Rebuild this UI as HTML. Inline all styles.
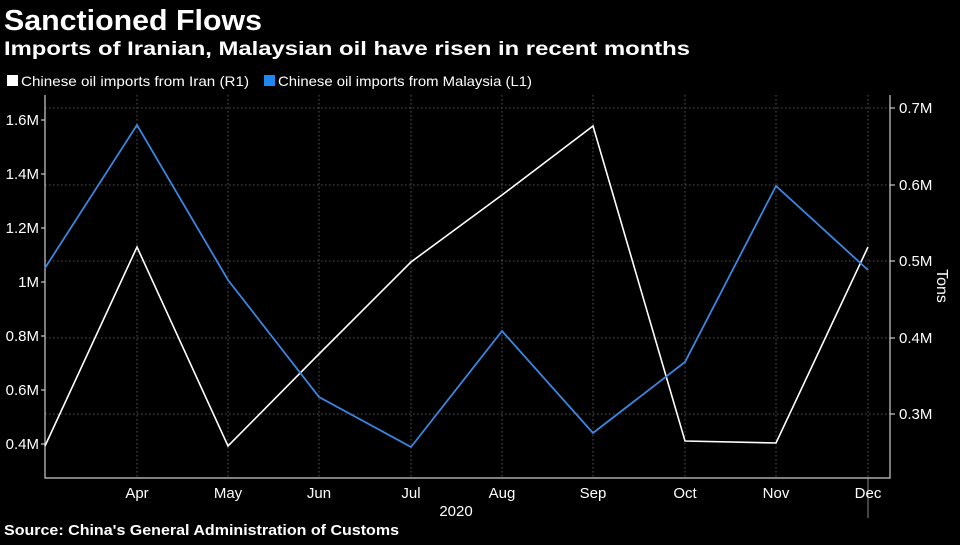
<!DOCTYPE html>
<html><head><meta charset="utf-8"><style>
body{margin:0;background:#000;width:960px;height:540px;overflow:hidden;font-family:"Liberation Sans",sans-serif;}
</style></head><body>
<svg width="960" height="540" xmlns="http://www.w3.org/2000/svg" font-family="Liberation Sans, sans-serif">
<rect width="960" height="540" fill="#000"/>
<text x="4" y="30" fill="#fff" font-size="29" font-weight="bold" textLength="258" lengthAdjust="spacingAndGlyphs">Sanctioned Flows</text>
<text x="4" y="55" fill="#fff" font-size="19" font-weight="bold" textLength="686" lengthAdjust="spacingAndGlyphs">Imports of Iranian, Malaysian oil have risen in recent months</text>
<rect x="7" y="75" width="11" height="11" fill="#fff"/>
<text x="21" y="86" fill="#fff" font-size="14" textLength="228" lengthAdjust="spacingAndGlyphs">Chinese oil imports from Iran (R1)</text>
<rect x="264" y="75" width="11" height="11" fill="#1e88f0"/>
<text x="278" y="86" fill="#fff" font-size="14" textLength="254" lengthAdjust="spacingAndGlyphs">Chinese oil imports from Malaysia (L1)</text>
<g stroke="#555" stroke-dasharray="1.5,2.5" stroke-width="1">
<line x1="45" y1="108" x2="890" y2="108"/><line x1="45" y1="185" x2="890" y2="185"/><line x1="45" y1="261" x2="890" y2="261"/><line x1="45" y1="338" x2="890" y2="338"/><line x1="45" y1="414" x2="890" y2="414"/>
<line x1="137" y1="95" x2="137" y2="478"/><line x1="228" y1="95" x2="228" y2="478"/><line x1="319" y1="95" x2="319" y2="478"/><line x1="411" y1="95" x2="411" y2="478"/><line x1="502" y1="95" x2="502" y2="478"/><line x1="593" y1="95" x2="593" y2="478"/><line x1="685" y1="95" x2="685" y2="478"/><line x1="776" y1="95" x2="776" y2="478"/><line x1="868" y1="95" x2="868" y2="478"/>
</g>
<line x1="868" y1="478" x2="868" y2="518" stroke="#888" stroke-width="1"/>
<g stroke="#ccc" stroke-width="1.2" fill="none">
<polyline points="45,95 45,478 890,478 890,95"/>
<line x1="41" y1="120" x2="45" y2="120"/><line x1="41" y1="174" x2="45" y2="174"/><line x1="41" y1="228" x2="45" y2="228"/><line x1="41" y1="282" x2="45" y2="282"/><line x1="41" y1="336" x2="45" y2="336"/><line x1="41" y1="390" x2="45" y2="390"/><line x1="41" y1="444" x2="45" y2="444"/>
<line x1="890" y1="108" x2="895" y2="108"/><line x1="890" y1="185" x2="895" y2="185"/><line x1="890" y1="261" x2="895" y2="261"/><line x1="890" y1="338" x2="895" y2="338"/><line x1="890" y1="414" x2="895" y2="414"/>
</g>
<g fill="#fff" font-size="15" text-anchor="end">
<text x="39" y="125">1.6M</text><text x="39" y="179">1.4M</text><text x="39" y="233">1.2M</text><text x="39" y="287">1M</text><text x="39" y="341">0.8M</text><text x="39" y="395">0.6M</text><text x="39" y="449">0.4M</text>
</g>
<g fill="#fff" font-size="15">
<text x="899" y="113">0.7M</text><text x="899" y="190">0.6M</text><text x="899" y="266">0.5M</text><text x="899" y="343">0.4M</text><text x="899" y="419">0.3M</text>
</g>
<text transform="translate(937,286) rotate(90)" fill="#fff" font-size="16" text-anchor="middle">Tons</text>
<g fill="#fff" font-size="15" text-anchor="middle">
<text x="137" y="498">Apr</text><text x="228" y="498">May</text><text x="319" y="498">Jun</text><text x="411" y="498">Jul</text><text x="502" y="498">Aug</text><text x="593" y="498">Sep</text><text x="685" y="498">Oct</text><text x="776" y="498">Nov</text><text x="868" y="498">Dec</text>
<text x="456" y="516">2020</text>
</g>
<polyline fill="none" stroke="#fff" stroke-width="1.6" points="45,446 137,247 228,446 319,354 411,262 502,195 593,126 685,441 776,443 868,247"/>
<polyline fill="none" stroke="#3a86e0" stroke-width="1.8" points="45,268 137,125 228,280 319,397 411,447 502,331 593,433 685,362 776,186 868,270"/>
<text x="4" y="535" fill="#fff" font-size="15" font-weight="bold" textLength="395" lengthAdjust="spacingAndGlyphs">Source: China's General Administration of Customs</text>
</svg>
</body></html>
